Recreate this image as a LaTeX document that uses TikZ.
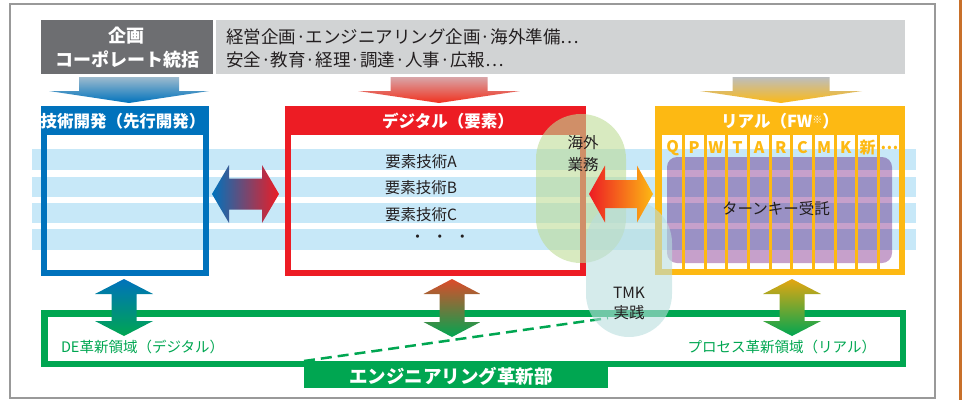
\documentclass[tikz,border=0pt]{standalone}
\usepackage{fontspec}
\setmainfont{Noto Sans CJK JP}
\usetikzlibrary{calc}
\definecolor{dkgray}{HTML}{6D6E71}
\definecolor{ltgray}{HTML}{D1D3D4}
\definecolor{cblue}{HTML}{0072BC}
\definecolor{cred}{HTML}{ED1C24}
\definecolor{cyel}{HTML}{FDB913}
\definecolor{cgreen}{HTML}{00A651}
\definecolor{stripe}{HTML}{C7E8F8}
\definecolor{txt}{HTML}{231F20}
\definecolor{cpurple}{HTML}{C6A0CB}
\definecolor{ovs}{RGB}{190,220,150}
\definecolor{tmkc}{RGB}{185,222,222}
\definecolor{corange}{HTML}{F7941D}
\definecolor{barc}{HTML}{C8702A}
\definecolor{redtop}{HTML}{DD4B2A}
\newcommand\myfs[2]{\fontsize{#1}{#2}\selectfont}
% horizontal double arrow: xL xR yc shaft-half head-half head-len shading
\newcommand\hdarrow[7]{\shade[#7] (#1,#3) -- (#1+#6,#3-#5) -- (#1+#6,#3-#4) -- (#2-#6,#3-#4) -- (#2-#6,#3-#5) -- (#2,#3) -- (#2-#6,#3+#5) -- (#2-#6,#3+#4) -- (#1+#6,#3+#4) -- (#1+#6,#3+#5) -- cycle;}
% vertical double arrow: xc yT yB shaft-half head-half head-len shading
\newcommand\vdarrow[7]{\shade[#7] (#1,#2) -- (#1+#5,#2+#6) -- (#1+#4,#2+#6) -- (#1+#4,#3-#6) -- (#1+#5,#3-#6) -- (#1,#3) -- (#1-#5,#3-#6) -- (#1-#4,#3-#6) -- (#1-#4,#2+#6) -- (#1-#5,#2+#6) -- cycle;}
% down arrow: xc yTop yHead yTip shaft-half head-half shading
\newcommand\dnarrow[7]{\shade[#7] (#1-#5,#2) -- (#1+#5,#2) -- (#1+#5,#3) -- (#1+#6,#3) -- (#1,#4) -- (#1-#6,#3) -- (#1-#5,#3) -- cycle;}
\tikzset{
  every node/.style={inner sep=0pt, outer sep=0pt},
  frame/.style={draw=#1, line width=6pt},
  band/.style={fill=#1, minimum height=29pt},
  title/.style={text=white, font=\myfs{16.5}{20}\bfseries},
  body/.style={text=txt, font=\myfs{15.5}{20}},
  colletter/.style={text=cyel, font=\myfs{16}{16}\bfseries},
  stadium/.style={fill=#1, fill opacity=0.6},
  area/.style={text=cgreen, font=\myfs{14.5}{14.5}},
}
\begin{document}
\begin{tikzpicture}[x=1pt,y=-1pt]
\useasboundingbox (0,0) rectangle (962,400);
% outer frame and side bar
\draw[gray!80, line width=1.2pt] (10,4) rectangle (935,398);
\fill[barc] (959,0) rectangle (962,400);
% header
\node[fill=dkgray, minimum width=172pt, minimum height=54pt] (corp) at (127,47) {};
\node[fill=ltgray, minimum width=689pt, minimum height=54pt] (staff) at (560.5,47) {};
\node[text=white, font=\myfs{18}{23.5}\bfseries, align=center] (corptxt) at (127,47.5) {企画\\コーポレート統括};
\node[text=txt, font=\myfs{17.5}{23.5}, align=left, anchor=west] (stafftxt) at (226,48.5) {経営企画·エンジニアリング企画·海外準備…\\安全·教育·経理·調達·人事·広報…};
% down arrows
\dnarrow{129}{77}{91}{103}{50}{80}{top color=cblue!25!ltgray, bottom color=cblue}
\dnarrow{439}{77}{91}{103}{48.5}{81}{top color=cred!25!ltgray, bottom color=cred!80!orange}
\dnarrow{781}{77}{91}{103}{48.5}{81}{top color=ltgray!90!black, bottom color=cyel}
% stripes
\foreach \a/\b in {149/170,176.5/197,202.5/223,229/250}
  \fill[stripe] (32,\a) rectangle (916,\b);
% blue box
\node[frame=cblue, minimum width=162pt, minimum height=164pt] (tech) at (125,191) {};
\node[band=cblue, minimum width=168pt] (techhead) at (125,120.5) {};
\node[title] (techtitle) at (123,121.5) {技術開発（先行開発）};
% red box
\node[frame=cred, minimum width=295pt, minimum height=164pt] (digi) at (435.5,191) {};
\node[band=cred, minimum width=301pt] (digihead) at (435.5,120.5) {};
\node[title] (digititle) at (448,121.5) {デジタル（要素）};
\node[body] (ea) at (421,162) {要素技術A};
\node[body] (eb) at (421,188) {要素技術B};
\node[body] (ec) at (421,214.5) {要素技術C};
\node[body] (edots) at (440,239) {・\hspace{7pt}・\hspace{7pt}・};
% yellow box
\node[frame=cyel, line width=6.5pt, minimum width=243.5pt, minimum height=162.5pt] (real) at (780,190.5) {};
\node[band=cyel, minimum width=250pt] (realhead) at (780,120.5) {};
\node[title] (realtitle) at (780,121.5) {リアル（FW\raisebox{4pt}{\myfs{10}{10}※}）};
\begin{scope}[blend mode=multiply]
\fill[cpurple, rounded corners=10pt] (667,157) rectangle (892,263);
\end{scope}
\foreach \k in {1,...,10}
  \draw[cyel, line width=3pt] ({661.7+\k*21.67},135) -- ({661.7+\k*21.67},269);
\foreach \c [count=\k] in {Q,P,W,T,A,R,C,M,K,新,…}
  \node[colletter] (col\k) at ({661.7+(\k-0.5)*21.67},148) {\c};
\node[body] (turnkey) at (776,209) {ターンキー受託};
% green frame
\node[draw=cgreen, line width=6.5pt, minimum width=858.5pt, minimum height=50.5pt] (eng) at (473.5,338.5) {};
\node[fill=cgreen, minimum width=304pt, minimum height=27pt] (engtab) at (456,374.5) {};
\node[text=white, font=\myfs{18.5}{18.5}\bfseries] (engtxt) at (451,376) {エンジニアリング革新部};
\node[area, anchor=west] (dearea) at (61,347) {DE革新領域（デジタル）};
\node[area, anchor=east] (procarea) at (876,347) {プロセス革新領域（リアル）};
% dashed link
\coordinate (dashA) at (engtab.north west);
\coordinate (dashB) at (608,318);
\draw[cgreen, line width=2.5pt, dash pattern=on 11pt off 6pt] (dashA) -- (dashB);
% stadiums
\node[stadium=ovs, minimum width=90pt, minimum height=149pt, rounded corners=44.9pt] (overseas) at (581,188.5) {};
\node[body, font=\myfs{15.5}{22}, align=center] (overseastxt) at (583,154) {海外\\業務};
\node[stadium=tmkc, minimum width=86pt, minimum height=137pt, rounded corners=42.9pt] (tmk) at (629,268.5) {};
\node[body, font=\myfs{15.5}{20}, align=center] (tmktxt) at (629,303) {TMK\\実践};
% fat arrows
\hdarrow{212}{279}{194}{15.5}{29}{17}{left color=cblue, right color=cred}
\hdarrow{589}{653}{194}{14}{28.5}{16}{left color=cred, middle color=corange, right color=cyel}
\vdarrow{124}{279}{336}{12.5}{29}{15}{top color=cblue, bottom color=cgreen}
\vdarrow{452}{279}{337}{12.5}{28.5}{15}{top color=redtop, bottom color=cgreen}
\vdarrow{792}{279}{336}{12.5}{29}{15}{top color=cyel!90!black, bottom color=cgreen}
\end{tikzpicture}
\end{document}
